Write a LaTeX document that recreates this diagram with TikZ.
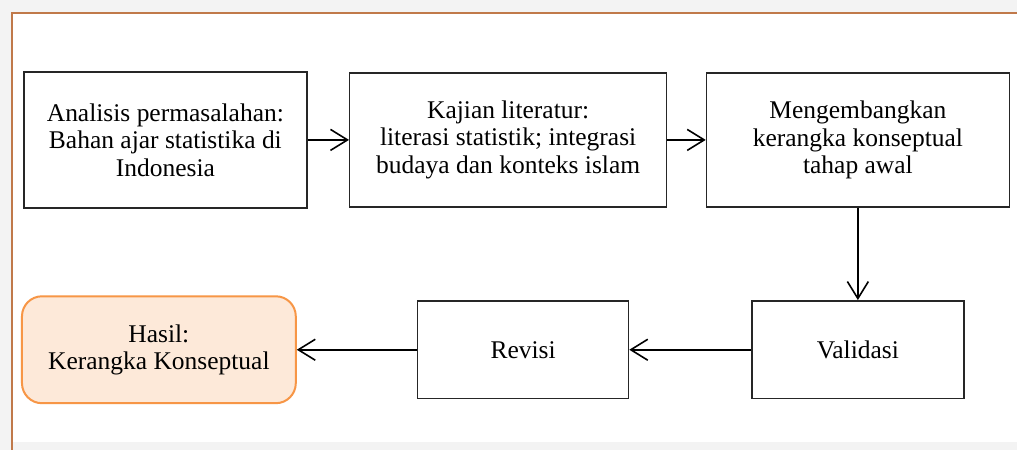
\documentclass[tikz,border=0pt]{standalone}
\usepackage{fontspec}
\setmainfont{Liberation Serif}
\usetikzlibrary{arrows.meta}

\definecolor{framebrown}{HTML}{C0794A}
\definecolor{hasilfill}{HTML}{FDE9D9}
\definecolor{hasildraw}{HTML}{F79646}
\definecolor{pagegray}{HTML}{F3F3F3}

\begin{document}
\begin{tikzpicture}[x=1pt, y=-1pt,
    stepbox/.style={rectangle, draw=black!85, line width=1.5pt, align=center,
      inner sep=0pt, font=\fontsize{25.5}{27.5}\selectfont},
    resultbox/.style={stepbox, draw=hasildraw, fill=hasilfill, line width=2pt,
      rounded corners=20pt},
    flow/.style={draw=black, line width=1.6pt, -{Straight Barb[length=17pt,width=21pt,line width=1.6pt]}}]

  % page and frame
  \fill[pagegray] (0,0) rectangle (1018,450);
  \fill[white] (12,13) rectangle (1018,442);
  \draw[framebrown, line width=1.5pt] (12,450) -- (12,13) -- (1018,13);

  % first row
  \node[stepbox, minimum width=283pt, minimum height=136pt] (analisis) at (165.5,140)
    {Analisis permasalahan:\\Bahan ajar statistika di\\Indonesia};
  \node[stepbox, minimum width=317pt, minimum height=134pt] (kajian) at (508.5,140)
    {Kajian literatur:\\literasi statistik; integrasi\\budaya dan konteks islam};
  \node[stepbox, minimum width=303pt, minimum height=134pt] (kerangka) at (858.5,140)
    {Mengembangkan\\kerangka konseptual\\tahap awal};

  % second row
  \node[stepbox, minimum width=212pt, minimum height=98pt] (validasi) at (858.5,350)
    {Validasi};
  \node[stepbox, minimum width=211pt, minimum height=98pt] (revisi) at (523.5,350)
    {Revisi};
  \node[resultbox, minimum width=274pt, minimum height=107pt] (hasil) at (159,350)
    {Hasil:\\Kerangka Konseptual};

  \draw[flow] (analisis) -- (kajian);
  \draw[flow] (kajian) -- (kerangka);
  \draw[flow] (kerangka) -- (validasi);
  \draw[flow] (validasi) -- (revisi);
  \draw[flow] (revisi) -- (hasil);
\end{tikzpicture}
\end{document}
